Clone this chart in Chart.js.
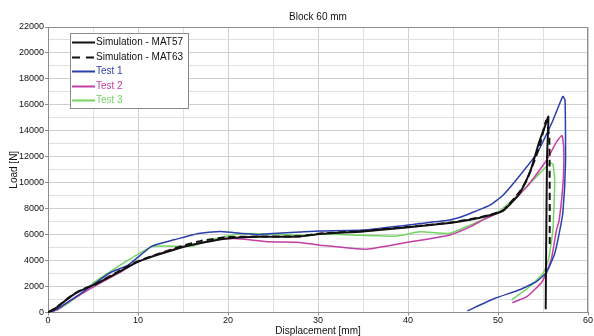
<!DOCTYPE html>
<html>
<head>
<meta charset="utf-8">
<script src="https://cdn.jsdelivr.net/npm/chart.js@4/dist/chart.umd.min.js"></script>
<style>
  html, body { margin: 0; padding: 0; background: #ffffff; }
  #wrap { width: 594px; height: 336px; }
</style>
</head>
<body>
<div id="wrap"><canvas id="c" width="594" height="336"></canvas></div>
<script>
// Labels
const chartTitle = 'Block 60 mm';
const xTitle = 'Displacement [mm]';
const yTitle = 'Load [N]';
const seriesNames = ['Simulation - MAT57', 'Simulation - MAT63', 'Test 1', 'Test 2', 'Test 3'];

// Load–displacement curves: displacement [mm] and load [N]
const mat57X = [0, 1, 2, 3, 4, 5.2, 7, 9.8, 12, 15, 17, 19.8, 23.5, 28, 30.2, 35, 39.8, 44.6, 46.9, 49.1, 50.6, 52.4, 53.6, 54.6, 55.2, 55.6, 55.45, 55.35, 55.3];
const mat57Y = [0, 400, 950, 1450, 1800, 2150, 2800, 3850, 4400, 5050, 5350, 5700, 5830, 5850, 6050, 6250, 6550, 6900, 7150, 7500, 7850, 9170, 10900, 13200, 14300, 15100, 12000, 5000, 250];

const mat63X = [0, 1, 2, 3, 4, 5.2, 7, 9.8, 12, 15, 17, 19.8, 23.5, 28, 30.2, 35, 39.8, 44.6, 46.9, 49.1, 50.6, 52.4, 53.2, 54.6, 55.35, 55.7, 55.75];
const mat63Y = [0, 420, 980, 1480, 1830, 2170, 2850, 3900, 4450, 5150, 5520, 5800, 5850, 5880, 6080, 6280, 6580, 6920, 7180, 7520, 7880, 9300, 10200, 12750, 14800, 13500, 5100];

const test1X = [0, 1, 2, 3.5, 5.2, 7, 8.9, 11.5, 14, 16.7, 19.1, 20.7, 23.5, 25, 28, 30.2, 35, 39.8, 41.3, 44.6, 46.1, 47.5, 49.1, 50.5, 52, 54.3, 56.1, 57.2, 57.45, 57.5, 57.2, 56.8, 56.3, 55.4, 54.3, 52.4, 49.6, 46.6];
const test1Y = [0, 250, 700, 1400, 2250, 3100, 3650, 5100, 5600, 6090, 6250, 6150, 6000, 6090, 6200, 6280, 6350, 6730, 6850, 7120, 7420, 7800, 8270, 9000, 10190, 12240, 14800, 16650, 16350, 11470, 7650, 6100, 4550, 3100, 2400, 1750, 1080, 120];

const test2X = [0, 1, 2, 3.5, 5.75, 8, 9.8, 12, 15, 18.2, 20.7, 24.6, 28, 30.2, 35.4, 39.8, 44.6, 46.9, 48.5, 50.6, 53.2, 55.4, 56.5, 57.1, 57.3, 57.25, 56.8, 56.5, 55.9, 54.9, 53.2, 51.6];
const test2Y = [0, 200, 700, 1350, 2245, 3100, 3850, 4450, 5060, 5520, 5700, 5450, 5400, 5190, 4880, 5400, 5960, 6600, 7200, 7880, 9680, 11730, 13140, 13650, 12760, 10200, 7115, 6345, 4040, 2370, 1215, 755];

const test3X = [0, 1, 2, 3.5, 5.2, 6.8, 8.9, 11.5, 13, 16.1, 17, 19.8, 22, 25, 28, 30.2, 34.6, 38.7, 41.3, 44.6, 46.9, 49.8, 52.4, 54.6, 55.8, 56.1, 56.3, 56.1, 55.6, 55.0, 53.5, 51.5];
const test3Y = [0, 200, 600, 1350, 2370, 3100, 4040, 5060, 5120, 5115, 5370, 5880, 6090, 6040, 5960, 6040, 5960, 5880, 6215, 6090, 6730, 7630, 9170, 10700, 11520, 11420, 10190, 6345, 4040, 3015, 1985, 960];

const seriesColors = ['#111111', '#111111', '#2b3fab', '#c23fa6', '#74d462'];

const toPoints = (xs, ys) => xs.map((x, i) => ({ x: x, y: ys[i] }));

const FONT = '"Liberation Sans", Arial, sans-serif';

// Grey frame round the plot area
const plotFrame = {
  id: 'plotFrame',
  beforeDatasetsDraw(chart) {
    const { ctx, chartArea: a } = chart;
    ctx.save();
    ctx.strokeStyle = '#8e8e8e';
    ctx.lineWidth = 1;
    ctx.strokeRect(Math.round(a.left) + 0.5, Math.round(a.top) + 0.5,
                   Math.round(a.right - a.left) - 1, Math.round(a.bottom - a.top) - 1);
    ctx.restore();
  }
};

// Boxed legend inside the top-left of the plot area
const legendBox = {
  id: 'legendBox',
  afterDraw(chart) {
    const { ctx, chartArea } = chart;
    const x0 = Math.round(chartArea.left) + 22;
    const y0 = Math.round(chartArea.top) + 6;
    const w = 118, h = 75;
    ctx.save();
    ctx.fillStyle = '#ffffff';
    ctx.fillRect(x0, y0, w, h);
    ctx.strokeStyle = '#8a8a8a';
    ctx.lineWidth = 1;
    ctx.strokeRect(x0 + 0.5, y0 + 0.5, w, h);
    ctx.font = '10px ' + FONT;
    ctx.textBaseline = 'middle';
    chart.data.datasets.forEach((ds, i) => {
      const y = Math.round(y0 + 9 + i * 14.6) + 0.5;
      ctx.strokeStyle = ds.borderColor;
      ctx.lineWidth = 2;
      ctx.setLineDash(ds.borderDash && ds.borderDash.length ? [8, 6] : []);
      ctx.beginPath();
      ctx.moveTo(x0 + 2, y);
      ctx.lineTo(x0 + 25, y);
      ctx.stroke();
      ctx.setLineDash([]);
      ctx.fillStyle = ds.borderColor;
      ctx.fillText(ds.label, x0 + 26, y);
    });
    ctx.restore();
  }
};

const mkSet = (label, xs, ys, color, width, dash) => ({
  label: label,
  data: toPoints(xs, ys),
  showLine: true,
  borderColor: color,
  backgroundColor: color,
  borderWidth: width,
  borderDash: dash,
  pointRadius: 0,
  tension: 0.15,
  fill: false
});

new Chart(document.getElementById('c'), {
  type: 'scatter',
  data: {
    datasets: [
      mkSet(seriesNames[0], mat57X, mat57Y, seriesColors[0], 2, []),
      mkSet(seriesNames[1], mat63X, mat63Y, seriesColors[1], 2, [7, 4]),
      mkSet(seriesNames[2], test1X, test1Y, seriesColors[2], 1.5, []),
      mkSet(seriesNames[3], test2X, test2Y, seriesColors[3], 1.5, []),
      mkSet(seriesNames[4], test3X, test3Y, seriesColors[4], 1.5, [])
    ]
  },
  options: {
    responsive: false,
    devicePixelRatio: 1,
    animation: false,
    layout: { padding: { left: 0, right: 6, top: 0, bottom: 0 } },
    plugins: {
      legend: { display: false },
      tooltip: { enabled: false },
      title: {
        display: true,
        text: chartTitle,
        fullSize: false,
        color: '#111111',
        font: { family: FONT, size: 10, weight: 'normal', lineHeight: 1.2 },
        padding: { top: 11, bottom: 4 }
      }
    },
    scales: {
      x: {
        type: 'linear',
        min: 0,
        max: 60,
        afterFit(scale) { scale.height = 23.5; },
        border: { color: '#8e8e8e' },
        grid: {
          color: (c) => (c.tick && c.tick.value % 10 === 0) ? '#cfcfcf' : '#e0e0e0',
          tickColor: (c) => (c.tick && c.tick.value % 10 === 0) ? '#8e8e8e' : 'rgba(0,0,0,0)',
          tickLength: 3
        },
        ticks: {
          stepSize: 5,
          autoSkip: false,
          maxRotation: 0,
          padding: 0,
          color: '#111111',
          font: { family: FONT, size: 9 },
          callback: (v) => (v % 10 === 0 ? String(v) : '')
        },
        title: {
          display: true,
          text: xTitle,
          color: '#111111',
          font: { family: FONT, size: 10, lineHeight: 1.0 },
          padding: { top: 0, bottom: 0 }
        }
      },
      y: {
        type: 'linear',
        min: 0,
        max: 22000,
        afterFit(scale) { scale.width = 48; },
        border: { color: '#8e8e8e' },
        grid: {
          color: (c) => (c.tick && c.tick.value % 2000 === 0) ? '#cfcfcf' : '#e0e0e0',
          tickColor: (c) => (c.tick && c.tick.value % 2000 === 0) ? '#8e8e8e' : 'rgba(0,0,0,0)',
          tickLength: 3
        },
        ticks: {
          stepSize: 1000,
          autoSkip: false,
          padding: 1,
          color: '#111111',
          font: { family: FONT, size: 9 },
          callback: (v) => (v % 2000 === 0 ? String(v) : '')
        },
        title: {
          display: true,
          text: yTitle,
          color: '#111111',
          font: { family: FONT, size: 10, lineHeight: 1.2 },
          padding: { top: 8, bottom: 0 }
        }
      }
    }
  },
  plugins: [plotFrame, legendBox]
});
</script>
</body>
</html>
